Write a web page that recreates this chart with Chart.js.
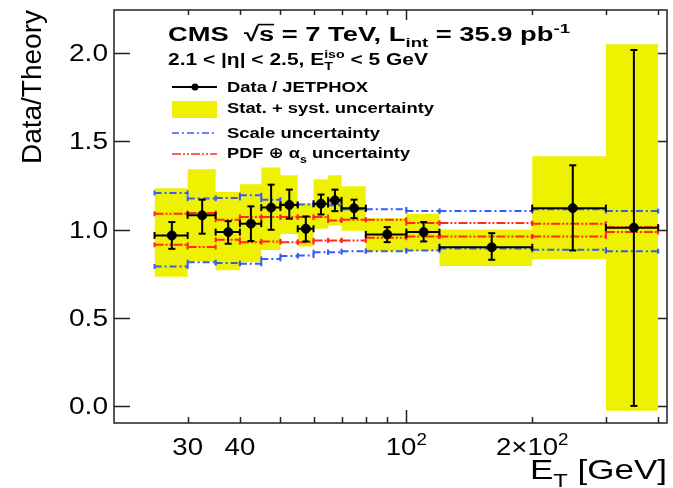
<!DOCTYPE html>
<html>
<head>
<meta charset="utf-8">
<script src="https://cdn.jsdelivr.net/npm/chart.js@4.4.1/dist/chart.umd.min.js"></script>
<style>
  html, body { margin: 0; padding: 0; background: #fff; }
  #ratioChart { display: block; }
</style>
</head>
<body>
<canvas id="ratioChart" width="673" height="488"></canvas>
<script>
// E_T bins [GeV]
const binLow = [25, 30, 35, 40, 45, 50, 55, 60, 65, 70, 80, 100, 120, 200, 300];
const binHigh = [30, 35, 40, 45, 50, 55, 60, 65, 70, 80, 100, 120, 200, 300, 400];
const binCenter = [27.5, 32.5, 37.5, 42.5, 47.5, 52.5, 57.5, 62.5, 67.5, 75, 90, 110, 160, 250, 350];

// Data / JETPHOX with statistical error bars
const ratio = [0.967, 1.081, 0.986, 1.034, 1.125, 1.140, 1.005, 1.147, 1.166, 1.122, 0.973, 0.986, 0.900, 1.122, 1.011];
const statLow = [0.891, 0.977, 0.920, 0.935, 0.999, 1.062, 0.933, 1.086, 1.105, 1.065, 0.929, 0.933, 0.829, 0.882, 0.000];
const statHigh = [1.043, 1.170, 1.048, 1.132, 1.255, 1.227, 1.075, 1.199, 1.227, 1.170, 1.014, 1.043, 0.980, 1.365, 2.019];

// stat. + syst. band
const bandLow = [0.732, 0.820, 0.770, 0.815, 0.885, 0.975, 0.904, 1.005, 1.024, 0.993, 0.878, 0.880, 0.793, 0.832, -0.028];
const bandHigh = [1.235, 1.342, 1.213, 1.257, 1.352, 1.308, 1.151, 1.286, 1.308, 1.246, 1.065, 1.090, 1.001, 1.416, 2.052];

// theory uncertainties
const scaleLow = [0.791, 0.815, 0.810, 0.806, 0.834, 0.850, 0.853, 0.872, 0.872, 0.878, 0.878, 0.882, 0.893, 0.886, 0.878];
const scaleHigh = [1.208, 1.176, 1.180, 1.195, 1.170, 1.142, 1.142, 1.142, 1.138, 1.115, 1.115, 1.105, 1.105, 1.115, 1.105];
const pdfLow = [0.914, 0.901, 0.942, 0.929, 0.933, 0.929, 0.929, 0.939, 0.939, 0.939, 0.954, 0.961, 0.961, 0.961, 0.986];
const pdfHigh = [1.090, 1.094, 1.056, 1.071, 1.071, 1.071, 1.071, 1.071, 1.052, 1.056, 1.056, 1.037, 1.037, 1.034, 1.014];

// axis ticks
const xMinorTicks = [30, 40, 50, 60, 70, 80, 90, 200, 300, 400];
const xMajorTicks = [100];
const xTickValues = [30, 40, 100, 200];
const xTickLabels = [["30", ""], ["40", ""], ["10", "2"], ["2\u00d710", "2"]];

const YELLOW = "rgb(238,242,0)";
const BLUE = "#3a5cf0";
const RED = "#ff2a1a";
const FAMILY = "'Liberation Sans', Arial, 'DejaVu Sans', sans-serif";

// continuous step outline over all bins (for the band)
function stepLine(values) {
  const pts = [];
  values.forEach((v, i) => {
    pts.push({ x: binLow[i], y: v }, { x: binHigh[i], y: v });
  });
  return pts;
}

// one broken horizontal segment per bin
function binSegments(values) {
  const pts = [];
  values.forEach((v, i) => {
    pts.push({ x: binLow[i], y: v }, { x: binHigh[i], y: v }, { x: binHigh[i], y: null });
  });
  return pts;
}

// vertical error bars at the bin centres
function errorSegments() {
  const pts = [];
  binCenter.forEach((x, i) => {
    pts.push({ x: x, y: statLow[i] }, { x: x, y: statHigh[i] }, { x: x, y: null });
  });
  return pts;
}

function lineSet(label, data, color, dash, capRadius, capRotation, order) {
  return {
    label: label,
    data: data,
    showLine: true,
    spanGaps: false,
    borderColor: color,
    borderWidth: 2,
    borderDash: dash,
    pointStyle: "line",
    pointRadius: capRadius,
    pointRotation: capRotation,
    pointBorderColor: color,
    pointBorderWidth: 2,
    pointBackgroundColor: color,
    order: order,
  };
}

// draws text with sub/superscripts, squeezed or stretched horizontally
function drawRich(ctx, segs, opt) {
  const fontFor = (s) => (opt.bold ? "bold " : "") + s + "px " + FAMILY;
  let w = 0;
  const parts = segs.map((sg) => {
    const s = sg.sub || sg.sup ? opt.size * 0.68 : opt.size;
    ctx.font = fontFor(s);
    let adv = ctx.measureText(sg.t).width;
    if (sg.over) {
      ctx.font = fontFor(opt.size * 0.68);
      adv = Math.max(adv, ctx.measureText(sg.over).width);
    }
    const p = { sg: sg, s: s, x: w, adv: adv };
    w += adv;
    return p;
  });
  const sx = opt.width ? opt.width / w : opt.sx || 1;
  let x0 = opt.x;
  if (opt.align === "right") x0 = opt.x - w * sx;
  if (opt.align === "center") x0 = opt.x - (w * sx) / 2;
  ctx.save();
  ctx.translate(x0, opt.y);
  ctx.scale(sx, 1);
  ctx.fillStyle = "#000";
  ctx.textAlign = "left";
  ctx.textBaseline = "alphabetic";
  parts.forEach((p) => {
    const dy = p.sg.sub ? opt.size * 0.3 : p.sg.sup ? -opt.size * 0.42 : 0;
    ctx.font = fontFor(p.s);
    ctx.fillText(p.sg.t, p.x, dy);
    if (p.sg.over) {
      ctx.font = fontFor(opt.size * 0.68);
      ctx.fillText(p.sg.over, p.x, -opt.size * 0.45);
    }
    if (p.sg.bar) {
      ctx.fillRect(p.x - 1, -opt.size * 0.86, p.adv + 1, opt.size * 0.08);
    }
  });
  ctx.restore();
}

const decorations = {
  id: "decorations",
  afterDraw(chart) {
    const ctx = chart.ctx;
    const area = chart.chartArea;
    const xs = chart.scales.x;
    const ys = chart.scales.y;

    // frame and inward ticks
    ctx.save();
    ctx.strokeStyle = "#222";
    ctx.lineWidth = 1.5;
    ctx.strokeRect(area.left, area.top, area.right - area.left, area.bottom - area.top);
    ctx.beginPath();
    ys.ticks.forEach((t) => {
      const y = Math.round(ys.getPixelForValue(t.value)) + 0.5;
      ctx.moveTo(area.left, y);
      ctx.lineTo(area.left + 16, y);
      ctx.moveTo(area.right, y);
      ctx.lineTo(area.right - 9, y);
    });
    xMinorTicks.forEach((v) => {
      const x = Math.round(xs.getPixelForValue(v)) + 0.5;
      ctx.moveTo(x, area.bottom);
      ctx.lineTo(x, area.bottom - 6);
      ctx.moveTo(x, area.top);
      ctx.lineTo(x, area.top + 5);
    });
    xMajorTicks.forEach((v) => {
      const x = Math.round(xs.getPixelForValue(v)) + 0.5;
      ctx.moveTo(x, area.bottom);
      ctx.lineTo(x, area.bottom - 13);
      ctx.moveTo(x, area.top);
      ctx.lineTo(x, area.top + 10);
    });
    ctx.stroke();
    ctx.restore();

    // tick labels
    ys.ticks.forEach((t) => {
      drawRich(ctx, [{ t: t.value.toFixed(1) }], {
        x: area.left - 6, y: ys.getPixelForValue(t.value) + 8, size: 23, align: "right", sx: 1.22,
      });
    });
    xTickValues.forEach((v, i) => {
      const segs = [{ t: xTickLabels[i][0] }];
      if (xTickLabels[i][1]) segs.push({ t: xTickLabels[i][1], sup: true });
      drawRich(ctx, segs, { x: xs.getPixelForValue(v), y: 455, size: 23, align: "center", sx: 1.2 });
    });

    // axis titles
    ctx.save();
    ctx.translate(41, area.top);
    ctx.rotate(-Math.PI / 2);
    ctx.font = "28px " + FAMILY;
    ctx.fillStyle = "#000";
    ctx.textAlign = "right";
    ctx.fillText("Data/Theory", 0, 0);
    ctx.restore();
    drawRich(ctx, [{ t: "E" }, { t: "T", sub: true }, { t: " [GeV]" }], {
      x: area.right, y: 479, size: 28, align: "right", width: 137,
    });

    // header
    drawRich(ctx, [
      { t: "CMS  " }, { t: "\u221a" }, { t: "s", bar: true }, { t: " = 7 TeV, L" },
      { t: "int", sub: true }, { t: " = 35.9 pb" }, { t: "-1", sup: true },
    ], { x: 168, y: 41, size: 20, bold: true, width: 402 });
    drawRich(ctx, [
      { t: "2.1 < |\u03b7| < 2.5, E" }, { t: "T", sub: true, over: "iso" }, { t: " < 5 GeV" },
    ], { x: 168, y: 65, size: 16, bold: true, width: 260 });

    // legend
    const ds = chart.data.datasets;
    ctx.save();
    ctx.lineWidth = 2;
    ctx.strokeStyle = "#000";
    ctx.beginPath();
    ctx.moveTo(172, 87);
    ctx.lineTo(217, 87);
    ctx.stroke();
    ctx.fillStyle = "#000";
    ctx.beginPath();
    ctx.arc(195, 87, 3.5, 0, Math.PI * 2);
    ctx.fill();
    ctx.fillStyle = ds[5].backgroundColor;
    ctx.fillRect(172, 101, 45, 17);
    ctx.lineWidth = 1.5;
    [[ds[3], 133], [ds[2], 154]].forEach(([d, y]) => {
      ctx.strokeStyle = d.borderColor;
      ctx.setLineDash(d.borderDash);
      ctx.beginPath();
      ctx.moveTo(172, y);
      ctx.lineTo(217, y);
      ctx.stroke();
    });
    ctx.restore();
    drawRich(ctx, [{ t: "Data / JETPHOX" }], { x: 227, y: 92, size: 15.5, bold: true, width: 141 });
    drawRich(ctx, [{ t: "Stat. + syst. uncertainty" }], { x: 227, y: 113, size: 15.5, bold: true, width: 207 });
    drawRich(ctx, [{ t: "Scale uncertainty" }], { x: 227, y: 138, size: 15.5, bold: true, width: 153 });
    drawRich(ctx, [{ t: "PDF \u2295 \u03b1" }, { t: "s", sub: true }, { t: " uncertainty" }], {
      x: 227, y: 158, size: 15.5, bold: true, width: 183,
    });
  },
};

const markers = binCenter.map((x, i) => ({ x: x, y: ratio[i] }));

const datasets = [
  {
    label: "Data / JETPHOX",
    data: markers,
    pointStyle: "circle",
    pointRadius: 4.5,
    pointBackgroundColor: "#000",
    pointBorderColor: "#000",
    showLine: false,
    order: 0,
  },
  lineSet("bin width", binSegments(ratio), "#000", [], 3.5, 90, 1),
  lineSet("PDF uncertainty", binSegments(pdfHigh).concat(binSegments(pdfLow)), RED, [9, 2, 2, 2, 2, 2], 2.5, 90, 3),
  lineSet("Scale uncertainty", binSegments(scaleHigh).concat(binSegments(scaleLow)), BLUE, [7, 3, 2, 3], 2.5, 90, 4),
  lineSet("stat error", errorSegments(), "#000", [], 3.5, 0, 2),
  {
    label: "Stat. + syst. uncertainty",
    data: stepLine(bandHigh),
    showLine: true,
    borderWidth: 0,
    pointRadius: 0,
    backgroundColor: YELLOW,
    fill: "+1",
    order: 5,
  },
  {
    label: "band low",
    data: stepLine(bandLow),
    showLine: true,
    borderWidth: 0,
    pointRadius: 0,
    fill: false,
    order: 6,
  },
];

new Chart(document.getElementById("ratioChart").getContext("2d"), {
  type: "scatter",
  data: { datasets: datasets },
  options: {
    responsive: false,
    animation: false,
    devicePixelRatio: 1,
    layout: { padding: { top: 10, right: 3, left: 0, bottom: 0 } },
    plugins: { legend: { display: false }, tooltip: { enabled: false } },
    scales: {
      x: {
        type: "logarithmic",
        min: 20,
        max: 420,
        ticks: { display: false },
        grid: { display: false, drawTicks: false },
        border: { display: false },
        afterFit: (s) => { s.height = 65; },
      },
      y: {
        min: -0.097,
        max: 2.246,
        ticks: { display: false, stepSize: 0.5, includeBounds: false },
        grid: { display: false, drawTicks: false },
        border: { display: false },
        afterFit: (s) => { s.width = 114; },
      },
    },
  },
  plugins: [decorations],
});
</script>
</body>
</html>
